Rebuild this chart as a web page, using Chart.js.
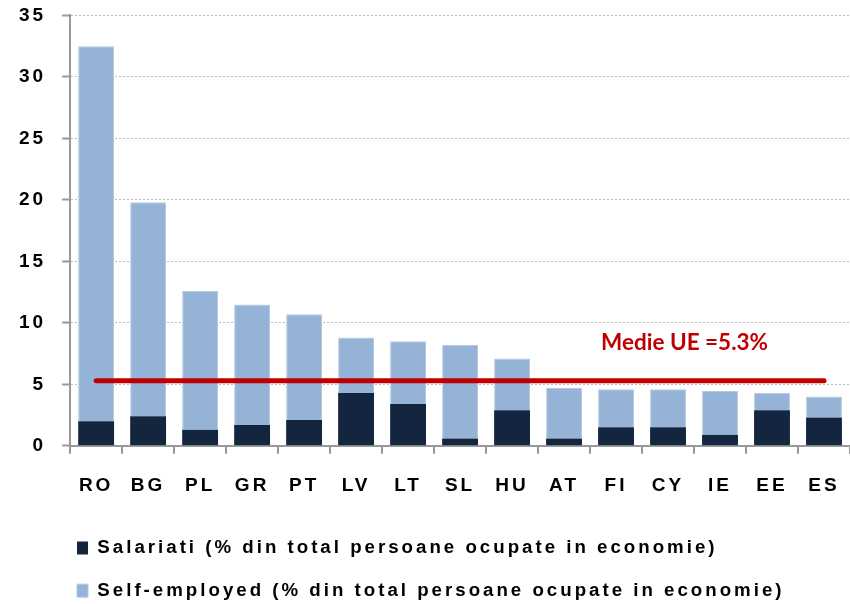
<!DOCTYPE html>
<html>
<head>
<meta charset="utf-8">
<script src="https://cdn.jsdelivr.net/npm/chart.js@4"></script>
<style>
  html, body { margin: 0; padding: 0; background: #fff; }
  #wrap { width: 850px; height: 604px; }
</style>
</head>
<body>
<div id="wrap"><canvas id="chart" width="850" height="604"></canvas></div>
<script>
var countries = ['RO', 'BG', 'PL', 'GR', 'PT', 'LV', 'LT', 'SL', 'HU', 'AT', 'FI', 'CY', 'IE', 'EE', 'ES'];
var salariati = [2.0, 2.4, 1.3, 1.7, 2.1, 4.3, 3.4, 0.6, 2.9, 0.6, 1.5, 1.5, 0.9, 2.9, 2.3];
var selfEmployed = [30.5, 17.4, 11.3, 9.8, 8.6, 4.5, 5.1, 7.6, 4.2, 4.1, 3.1, 3.1, 3.55, 1.4, 1.7];
var medieUE = 5.3;
var yTicks = [0, 5, 10, 15, 20, 25, 30, 35];

var medieLine = countries.map(function () { return medieUE; });

// the original text is spaced out a little
var spacing = {
    id: 'spacing',
    beforeUpdate: function (chart) { chart.ctx.letterSpacing = '3px'; },
    beforeLayout: function (chart) { chart.ctx.letterSpacing = '3px'; },
    afterLayout: function (chart) {
        // legend starts further in than the plot's left edge
        chart.legend.left = 53;
    },
    beforeDraw: function (chart) { chart.ctx.letterSpacing = '3px'; }
};

var medieLabel = {
    id: 'medieLabel',
    afterDatasetsDraw: function (chart) {
        var ctx = chart.ctx;
        var x = chart.scales.x.getPixelForValue(10) - 15;
        var y = chart.scales.y.getPixelForValue(8.37);
        ctx.save();
        ctx.letterSpacing = '0px';
        ctx.font = 'bold 22.5px Lato';
        ctx.fillStyle = '#C00000';
        ctx.textAlign = 'left';
        ctx.textBaseline = 'middle';
        ctx.fillText('Medie UE =5.3%', x, y);
        ctx.restore();
    }
};

new Chart(document.getElementById('chart'), {
    type: 'bar',
    data: {
        labels: countries,
        datasets: [{
            type: 'line',
            label: 'Medie UE',
            data: medieLine,
            borderColor: '#C00000',
            borderWidth: 5,
            borderCapStyle: 'round',
            pointRadius: 0,
            order: 0
        }, {
            label: 'Salariati (% din total persoane ocupate in economie)',
            data: salariati,
            backgroundColor: '#13253F',
            categoryPercentage: 0.69,
            barPercentage: 1,
            order: 1
        }, {
            label: 'Self-employed (% din total persoane ocupate in economie)',
            data: selfEmployed,
            backgroundColor: '#95B3D7',
            borderColor: '#B4C8E2',
            borderWidth: 1,
            categoryPercentage: 0.69,
            barPercentage: 1,
            order: 1
        }]
    },
    options: {
        responsive: false,
        animation: false,
        layout: { padding: { top: 0, right: -6, left: 15, bottom: -6 } },
        plugins: {
            tooltip: { enabled: false },
            legend: {
                position: 'bottom',
                align: 'start',
                labels: {
                    filter: function (item) { return item.datasetIndex > 0; },
                    boxWidth: 11,
                    boxHeight: 13,
                    padding: 24,
                    color: '#000',
                    font: { family: 'Liberation Sans', size: 18.7, weight: 'bold' }
                }
            }
        },
        scales: {
            x: {
                stacked: true,
                afterFit: function (axis) {
                    axis.height -= 4;
                    // plot runs a bit past the right edge of the picture
                    axis.paddingRight = -6;
                },
                grid: {
                    offset: true,
                    drawOnChartArea: false,
                    tickLength: 8,
                    tickColor: '#999',
                    lineWidth: 2
                },
                border: { color: '#999', width: 2 },
                ticks: {
                    color: '#000',
                    padding: 21,
                    font: { family: 'Liberation Sans', size: 19, weight: 'bold' }
                }
            },
            y: {
                stacked: true,
                min: 0,
                max: 35,
                afterFit: function (axis) { axis.paddingRight = -6; },
                afterBuildTicks: function (axis) {
                    axis.ticks = yTicks.map(function (v) { return { value: v }; });
                },
                grid: {
                    color: '#BDBDBD',
                    lineWidth: 1,
                    tickColor: '#999',
                    tickLength: 20,
                    // only the last 8px of the tick is visible
                    tickBorderDash: [0, 12, 8, 0],
                    tickWidth: 2
                },
                border: { color: '#999', width: 2, dash: [2, 2] },
                ticks: {
                    color: '#000',
                    padding: 4,
                    font: { family: 'Liberation Sans', size: 19, weight: 'bold' }
                }
            }
        }
    },
    plugins: [spacing, medieLabel]
});
</script>
</body>
</html>
